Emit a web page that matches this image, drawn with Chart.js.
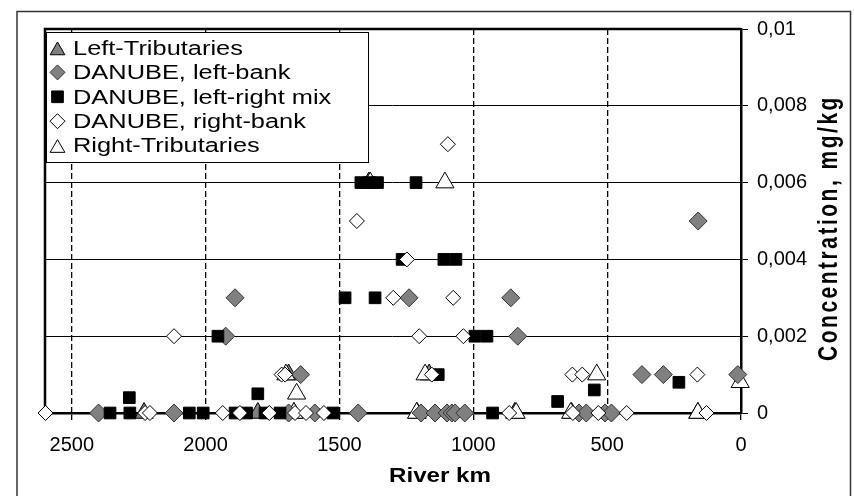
<!DOCTYPE html>
<html>
<head>
<meta charset="utf-8">
<script src="https://cdn.jsdelivr.net/npm/chart.js@4.4.0/dist/chart.umd.min.js"></script>
<style>
  html, body { margin: 0; padding: 0; background: #fff; }
  #wrap { width: 854px; height: 496px; }
</style>
</head>
<body>
<div id="wrap"><canvas id="chart" width="854" height="496"></canvas></div>
<script>
// series labels (legend order)
const seriesLabels = [
  'Left-Tributaries',
  'DANUBE, left-bank',
  'DANUBE, left-right mix',
  'DANUBE, right-bank',
  'Right-Tributaries',
];

// axis ticks
const xTickValues = [0, 500, 1000, 1500, 2000, 2500];
const yTickValues = [0, 0.002, 0.004, 0.006, 0.008, 0.01];

// river km / concentration (mg/kg)
const leftTribKm = [1390, 1690, 1165, 2230, 1805, 1670, 1210, 845, 633, 161];
const leftTribConc = [0.006, 0.001, 0.001, 0, 0, 0, 0, 0, 0, 0];

const leftBankKm = [1890, 1240, 860, 1925, 834, 160, 1645, 370, 290, 12,
  2400, 2118, 1690, 1592, 1430, 1195, 1143, 1098, 1080, 1068, 1032, 605, 578, 508, 484];
const leftBankConc = [0.003, 0.003, 0.003, 0.002, 0.002, 0.005, 0.001, 0.001, 0.001, 0.001,
  0, 0, 0, 0, 0, 0, 0, 0, 0, 0, 0, 0, 0, 0, 0];

const mixKm = [1420, 1388, 1358, 1214, 1266, 1110, 1065, 1479, 1367, 1954, 994, 949, 1131,
  548, 232, 1805, 2285, 685,
  2357, 2283, 2061, 2009, 1890, 1847, 1778, 1722, 1524, 928];
const mixConc = [0.006, 0.006, 0.006, 0.006, 0.004, 0.004, 0.004, 0.003, 0.003, 0.002, 0.002, 0.002, 0.001,
  0.0006, 0.0008, 0.0005, 0.0004, 0.0003,
  0, 0, 0, 0, 0, 0, 0, 0, 0, 0];

const rightBankKm = [1095, 1435, 1248, 1299, 1075, 2118, 1202, 1037, 1716, 1703, 1155, 630, 593, 163,
  2598, 2226, 2208, 1936, 1872, 1762, 1666, 1625, 1558, 866, 628, 533, 427, 129];
const rightBankConc = [0.007, 0.005, 0.004, 0.003, 0.003, 0.002, 0.002, 0.002, 0.001, 0.001, 0.001, 0.001, 0.001, 0.001,
  0, 0, 0, 0, 0, 0, 0, 0, 0, 0, 0, 0, 0, 0];

const rightTribKm = [1106, 1385, 1700, 1180, 539, 1660, 3, 1670, 840, 636, 161, 1212];
const rightTribConc = [0.006, 0.006, 0.001, 0.001, 0.001, 0.0005, 0.0008, 0, 0, 0, 0, 0];

const xTitle = 'River km';
const yTitle = 'Concentration, mg/kg';

const FONT = '"Liberation Sans", Arial, sans-serif';

function pts(km, conc) {
  return km.map((x, i) => ({ x: x, y: conc[i] }));
}

const datasets = [
  { label: seriesLabels[0], data: pts(leftTribKm, leftTribConc), pointStyle: 'triangle', pointRadius: 10.5,
    backgroundColor: '#808080', borderColor: '#000', order: 5 },
  { label: seriesLabels[1], data: pts(leftBankKm, leftBankConc), pointStyle: 'rectRot', pointRadius: 9,
    backgroundColor: '#808080', borderColor: '#333', order: 3 },
  { label: seriesLabels[2], data: pts(mixKm, mixConc), pointStyle: 'rect', pointRadius: 8.25,
    backgroundColor: '#000', borderColor: '#000', order: 2 },
  { label: seriesLabels[3], data: pts(rightBankKm, rightBankConc), pointStyle: 'rectRot', pointRadius: 7.5,
    backgroundColor: '#fff', borderColor: '#000', order: 1 },
  { label: seriesLabels[4], data: pts(rightTribKm, rightTribConc), pointStyle: 'triangle', pointRadius: 10.5,
    backgroundColor: '#fff', borderColor: '#000', order: 4 },
].map(d => Object.assign(d, { borderWidth: 1, pointHoverRadius: d.pointRadius, clip: false, showLine: false }));

// legend marker sizes (smaller than the plotted ones)
const legendRadius = [8.5, 7.5, 8.25, 7.5, 8.5];

const decor = {
  id: 'decor',
  beforeDraw(chart) {
    const ctx = chart.ctx;
    ctx.save();
    ctx.fillStyle = '#fff';
    ctx.fillRect(0, 0, chart.width, chart.height);
    ctx.restore();
  },
  beforeDatasetsDraw(chart) {
    // left and top edge of the plot frame
    const { ctx, chartArea: a } = chart;
    ctx.save();
    ctx.strokeStyle = '#000';
    ctx.lineWidth = 2.5;
    ctx.beginPath();
    ctx.moveTo(a.left, a.bottom);
    ctx.lineTo(a.left, a.top);
    ctx.lineTo(a.right, a.top);
    ctx.stroke();
    ctx.restore();
  },
  afterDatasetsDraw(chart) {
    const ctx = chart.ctx;
    ctx.save();
    // legend box
    ctx.fillStyle = '#fff';
    ctx.fillRect(46.5, 32.5, 322, 130);
    ctx.strokeStyle = '#000';
    ctx.lineWidth = 1;
    ctx.strokeRect(46.5, 32.5, 322, 130);
    chart.data.datasets.forEach((ds, i) => {
      const tri = ds.pointStyle === 'triangle';
      const cy = 48 + i * 24.4 + (tri ? 2.5 : 0);
      ctx.fillStyle = ds.backgroundColor;
      ctx.strokeStyle = ds.borderColor;
      ctx.lineWidth = 1;
      Chart.helpers.drawPoint(ctx, { pointStyle: ds.pointStyle, radius: legendRadius[i], rotation: 0, borderWidth: 1 }, 57.5, cy);
      ctx.save();
      ctx.translate(73, 55 + i * 24.35);
      ctx.scale(1.27, 1);
      ctx.fillStyle = '#000';
      ctx.font = '20px ' + FONT;
      ctx.textAlign = 'left';
      ctx.textBaseline = 'alphabetic';
      ctx.fillText(ds.label, 0, 0);
      ctx.restore();
    });
    ctx.restore();
  },
  afterDraw(chart) {
    const ctx = chart.ctx;
    ctx.save();
    // outer chart border
    ctx.strokeStyle = '#333';
    ctx.lineWidth = 1.5;
    ctx.strokeRect(17, 11.5, 833.5, 500);

    ctx.fillStyle = '#000';
    // x title
    ctx.save();
    ctx.translate(440, 482);
    ctx.scale(1.15, 1);
    ctx.font = 'bold 21px ' + FONT;
    ctx.textAlign = 'center';
    ctx.textBaseline = 'alphabetic';
    ctx.fillText(xTitle, 0, 0);
    ctx.restore();

    // y title, reading bottom to top
    ctx.save();
    ctx.translate(837, 228);
    ctx.scale(1.35, 1);
    ctx.rotate(-Math.PI / 2);
    ctx.font = 'bold 21px ' + FONT;
    ctx.letterSpacing = '2.5px';
    ctx.textAlign = 'center';
    ctx.textBaseline = 'alphabetic';
    ctx.fillText(yTitle, 0, 0);
    ctx.restore();
    ctx.restore();
  }
};

new Chart(document.getElementById('chart'), {
  type: 'scatter',
  data: { datasets: datasets },
  options: {
    responsive: false,
    animation: false,
    events: [],
    layout: { padding: { left: 45, top: 29, right: 0, bottom: 0 } },
    plugins: {
      legend: { display: false },
      tooltip: { enabled: false },
    },
    scales: {
      x: {
        type: 'linear',
        min: 0,
        max: 2600,
        reverse: true,
        afterFit: (s) => { s.height = 83; },
        afterBuildTicks: (s) => { s.ticks = xTickValues.map(v => ({ value: v })); },
        ticks: {
          maxRotation: 0,
          autoSkip: false,
          padding: 13,
          color: '#000',
          font: { family: FONT, size: 20 },
          callback: (v) => String(v),
        },
        grid: { color: '#000', lineWidth: 1.3, tickLength: 7, tickColor: '#000', tickWidth: 1.3 },
        border: { display: true, color: '#000', width: 2.5, dash: [6, 3] },
      },
      y: {
        type: 'linear',
        position: 'right',
        min: 0,
        max: 0.01,
        afterFit: (s) => { s.width = 113; },
        afterBuildTicks: (s) => { s.ticks = yTickValues.map(v => ({ value: v })); },
        ticks: {
          padding: 9,
          color: '#000',
          font: { family: FONT, size: 20 },
          callback: (v) => v === 0 ? '0' : String(+v.toFixed(3)).replace('.', ','),
        },
        grid: { color: '#000', lineWidth: 1, tickLength: 7, tickColor: '#000' },
        border: { display: true, color: '#000', width: 2.5 },
      },
    },
  },
  plugins: [decor],
});
</script>
</body>
</html>
